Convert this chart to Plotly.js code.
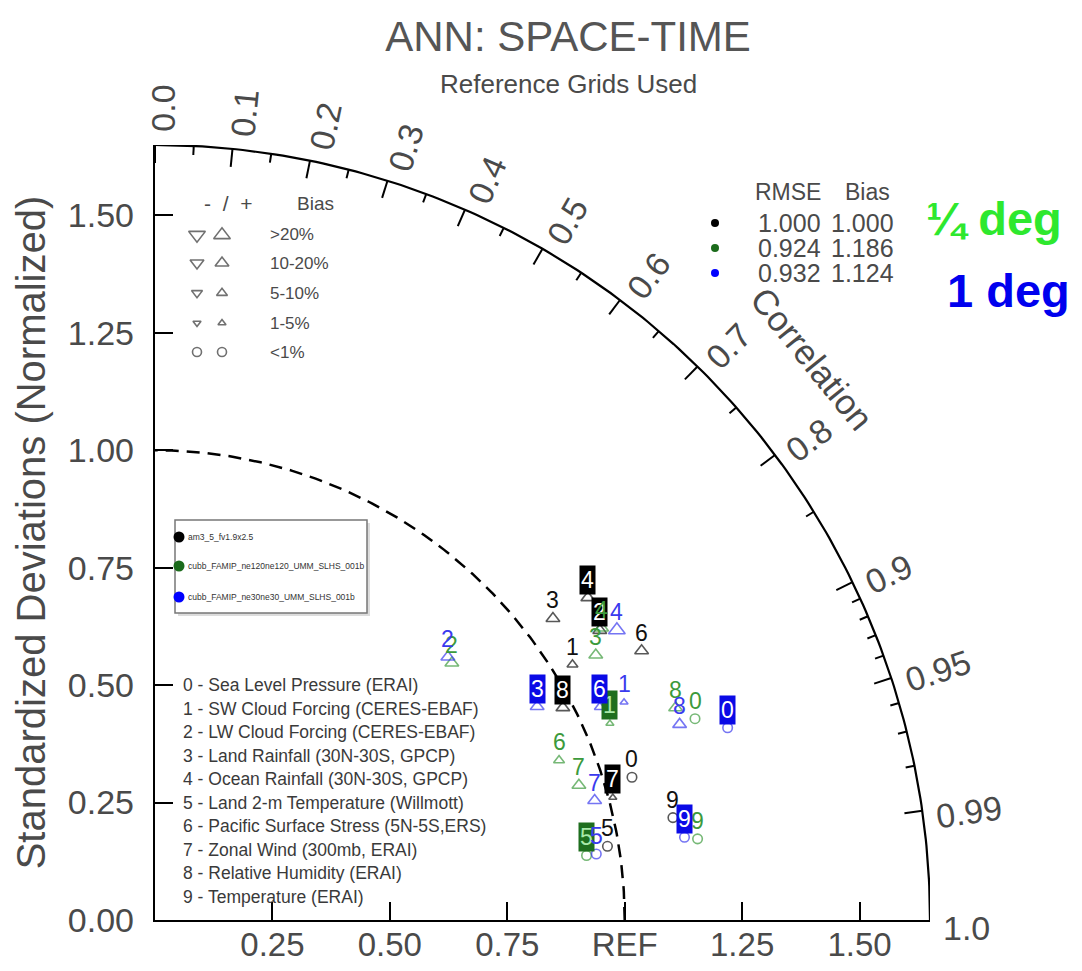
<!DOCTYPE html>
<html><head><meta charset="utf-8">
<script src="https://cdn.plot.ly/plotly-3.0.1.min.js"></script>
<style>html,body{margin:0;padding:0;background:#fff}#chart{width:1082px;height:971px}</style>
</head><body><div id="chart"></div>
<script>
// ---------------- data ----------------
const variableNames = ['Sea Level Pressure (ERAI)', 'SW Cloud Forcing (CERES-EBAF)', 'LW Cloud Forcing (CERES-EBAF)',
  'Land Rainfall (30N-30S, GPCP)', 'Ocean Rainfall (30N-30S, GPCP)', 'Land 2-m Temperature (Willmott)',
  'Pacific Surface Stress (5N-5S,ERS)', 'Zonal Wind (300mb, ERAI)', 'Relative Humidity (ERAI)', 'Temperature (ERAI)'];
const caseNames = ['am3_5_fv1.9x2.5', 'cubb_FAMIP_ne120ne120_UMM_SLHS_001b', 'cubb_FAMIP_ne30ne30_UMM_SLHS_001b'];
const rmseValues = ['1.000', '0.924', '0.932'];
const biasValues = ['1.000', '1.186', '1.124'];

// normalized standard deviation and correlation for each variable (0..9)
const stdCase1 = [1.060, 1.042, 1.130, 1.063, 1.149, 0.976, 1.184, 1.009, 0.979, 1.124];
const corCase1 = [0.958, 0.853, 0.838, 0.797, 0.802, 0.987, 0.875, 0.966, 0.887, 0.981];
const stdCase2 = [1.227, 1.055, 0.836, 1.095, 1.136, 0.929, 0.925, 0.947, 1.197, 1.168];
const corCase2 = [0.937, 0.918, 0.756, 0.857, 0.837, 0.989, 0.930, 0.953, 0.926, 0.989];
const stdCase3 = [1.286, 1.101, 0.838, 0.932, 1.161, 0.950, 1.050, 0.970, 1.192, 1.141];
const corCase3 = [0.948, 0.907, 0.744, 0.873, 0.847, 0.989, 0.902, 0.965, 0.937, 0.988];
// bias class: 0 <1%, 1 1-5%, 2 5-10%, 3 10-20%, 4 >20% (all positive)
const biasClassCase1 = [0, 2, 3, 3, 3, 0, 3, 1, 3, 0];
const biasClassCase2 = [0, 1, 3, 3, 3, 0, 2, 3, 3, 0];
const biasClassCase3 = [0, 1, 3, 3, 4, 0, 2, 3, 3, 0];
// labels drawn in a filled box
const boxedCase1 = [0, 0, 1, 0, 1, 0, 0, 1, 1, 0];
const boxedCase2 = [0, 1, 0, 0, 0, 1, 0, 0, 0, 0];
const boxedCase3 = [1, 0, 0, 1, 0, 0, 1, 0, 0, 1];

const stdTickVals = [0, 0.25, 0.5, 0.75, 1.0, 1.25, 1.5];
const stdTickTextY = ['0.00', '0.25', '0.50', '0.75', '1.00', '1.25', '1.50'];
const stdTickTextX = ['', '0.25', '0.50', '0.75', 'REF', '1.25', '1.50'];
const corMajor = [0, 0.1, 0.2, 0.3, 0.4, 0.5, 0.6, 0.7, 0.8, 0.9, 0.95, 0.99];
const corMinor = [0.05, 0.15, 0.25, 0.35, 0.45, 0.55, 0.65, 0.75, 0.85, 0.91, 0.92, 0.93, 0.94, 0.96, 0.97, 0.98];
const corLabelVals = [0, 0.1, 0.2, 0.3, 0.4, 0.5, 0.6, 0.7, 0.8, 0.9, 0.95, 0.99, 1.0];
const corLabelText = ['0.0', '0.1', '0.2', '0.3', '0.4', '0.5', '0.6', '0.7', '0.8', '0.9', '0.95', '0.99', '1.0'];
const biasLegendText = ['>20%', '10-20%', '5-10%', '1-5%', '<1%'];

// ---------------- layout constants ----------------
const RMAX = 1.65;
const L = 155, T = 145, W = 775, H = 775;           // plot area in px
const S = W / RMAX;                                  // px per unit
const FONT = 'Liberation Sans, Arial, sans-serif';
const TXT = '#4a4a4a';
const caseColors = ['#111111', '#3c9a3c', '#3a3aee'];
const boxColors = ['#000000', '#1e6e1e', '#0a0ae6'];
const boxText = ['#ffffff', '#a8e8a8', '#ffffff'];
const dotColors = ['#000000', '#1b6b1b', '#0000ff'];
const classSizes = [9.5, 7, 9.5, 12, 14.5];

function dX(px) { return (px - L) / S; }   // pixel -> data
function dY(py) { return (T + H - py) / S; }
function pX(px) { return (px - L) / W; }   // pixel -> paper
function pY(py) { return (T + H - py) / H; }

const traces = [];
const annotations = [];
function note(px, py, text, size, opts) {
  annotations.push(Object.assign({xref: 'paper', yref: 'paper', x: pX(px), y: pY(py), text: text, showarrow: false,
    xanchor: 'center', yanchor: 'middle', font: {family: FONT, size: size, color: TXT}}, opts || {}));
}

// outer arc and REF arc
function arc(r) {
  const xs = [], ys = [];
  for (let i = 0; i <= 180; i++) { const a = i / 180 * Math.PI / 2; xs.push(r * Math.cos(a)); ys.push(r * Math.sin(a)); }
  return [xs, ys];
}
let a1 = arc(RMAX);
traces.push({x: a1[0], y: a1[1], mode: 'lines', line: {color: '#000', width: 2.2}, hoverinfo: 'skip', cliponaxis: false});
let a2 = arc(1.0);
traces.push({x: a2[0], y: a2[1], mode: 'lines', line: {color: '#000', width: 2.5, dash: '13px,8px'}, hoverinfo: 'skip'});

// correlation ticks
function corTicks(vals, lenPx) {
  const xs = [], ys = [];
  vals.forEach(r => {
    const th = Math.acos(r);
    const r0 = RMAX, r1 = RMAX - lenPx / S;
    xs.push(r0 * Math.cos(th), r1 * Math.cos(th), null);
    ys.push(r0 * Math.sin(th), r1 * Math.sin(th), null);
  });
  return {x: xs, y: ys, mode: 'lines', line: {color: '#000', width: 2}, hoverinfo: 'skip', cliponaxis: false};
}
traces.push(corTicks(corMajor, 18));
traces.push(corTicks(corMinor, 9));

// correlation labels
corLabelVals.forEach((r, i) => {
  const th = Math.acos(r);
  const t = corLabelText[i];
  let w = 0; for (const c of t) w += (c === '.') ? 9.7 : 19.5;
  const R = W + 12 + w / 2;
  const cx = L + R * Math.cos(th) + 8 * Math.sin(th);
  const cy = T + H - R * Math.sin(th) + 8 * Math.cos(th);
  note(cx, cy, t, 34, {textangle: -th * 180 / Math.PI});
});
note(812, 358, 'Correlation', 35, {textangle: 51});

// data points
const cases = [
  {std: stdCase1, cor: corCase1, cls: biasClassCase1, box: boxedCase1},
  {std: stdCase2, cor: corCase2, cls: biasClassCase2, box: boxedCase2},
  {std: stdCase3, cor: corCase3, cls: biasClassCase3, box: boxedCase3}
];
cases.forEach((c, ci) => {
  const xs = c.std.map((s, k) => s * c.cor[k]);
  const ys = c.std.map((s, k) => s * Math.sqrt(1 - c.cor[k] * c.cor[k]));
  traces.push({x: xs, y: ys, mode: 'markers', name: caseNames[ci], hoverinfo: 'skip',
    marker: {symbol: c.cls.map(v => v === 0 ? 'circle-open' : 'triangle-up-open'),
             size: c.cls.map(v => classSizes[v]), color: caseColors[ci], line: {width: 1.6, color: caseColors[ci]}}});
  xs.forEach((x, k) => {
    const boxed = c.box[k] === 1;
    annotations.push({x: x, y: ys[k], xref: 'x', yref: 'y', text: String(k), showarrow: false, yshift: 18,
      xanchor: 'center', yanchor: 'middle',
      font: {family: FONT, size: 23, color: boxed ? boxText[ci] : caseColors[ci]},
      bgcolor: boxed ? boxColors[ci] : 'rgba(0,0,0,0)', borderpad: 1});
  });
});

// bias legend (top-left)
const legRowsY = [235, 263, 293, 323, 352];
traces.push({x: legRowsY.map(() => dX(197)), y: legRowsY.map(dY), mode: 'markers', hoverinfo: 'skip',
  marker: {symbol: ['triangle-down-open', 'triangle-down-open', 'triangle-down-open', 'triangle-down-open', 'circle-open'],
           size: [14.5, 12, 9.5, 7, 9], color: '#333', line: {width: 1.6, color: '#333'}}});
traces.push({x: legRowsY.map(() => dX(222)), y: legRowsY.map(dY), mode: 'markers', hoverinfo: 'skip',
  marker: {symbol: ['triangle-up-open', 'triangle-up-open', 'triangle-up-open', 'triangle-up-open', 'circle-open'],
           size: [14.5, 12, 9.5, 7, 9], color: '#333', line: {width: 1.6, color: '#333'}}});
note(228, 203, '-  /  +', 21);
note(315, 203, 'Bias', 19);
biasLegendText.forEach((t, i) => note(268, legRowsY[i], t, 17, {xanchor: 'left'}));

// case legend box
const shapes = [
  {type: 'rect', xref: 'paper', yref: 'paper', x0: pX(178), x1: pX(370), y0: pY(616), y1: pY(523), line: {width: 0}, fillcolor: '#dcdcdc', layer: 'below'},
  {type: 'rect', xref: 'paper', yref: 'paper', x0: pX(175), x1: pX(367), y0: pY(613), y1: pY(520), line: {color: '#777', width: 1.5}, fillcolor: '#fff', layer: 'below'}
];
const caseRowY = [537, 566, 597];
traces.push({x: caseRowY.map(() => dX(179)), y: caseRowY.map(dY), mode: 'markers', hoverinfo: 'skip',
  marker: {size: 11, color: dotColors}});
caseNames.forEach((n, i) => note(186, caseRowY[i], n, 8.5, {xanchor: 'left', font: {family: FONT, size: 8.5, color: '#333'}}));

// variable list
variableNames.forEach((v, i) => note(181, 685 + i * 23.5, i + ' - ' + v, 17.5,
  {xanchor: 'left', font: {family: FONT, size: 17.5, color: '#3a3a3a'}}));

// RMSE / Bias legend
const rmseRowY = [223, 248, 273];
traces.push({x: rmseRowY.map(() => dX(715)), y: rmseRowY.map(dY), mode: 'markers', hoverinfo: 'skip',
  marker: {size: 8, color: dotColors}});
note(788, 192, 'RMSE', 23);
note(867, 192, 'Bias', 23);
rmseRowY.forEach((y, i) => {
  note(789, y, rmseValues[i], 25);
  note(862, y, biasValues[i], 25);
});

// resolution tags
note(924, 218, '¼ deg', 47, {xanchor: 'left', font: {family: FONT, size: 47, color: '#2ee82e', weight: 'bold'}});
note(945, 290, '1 deg', 47, {xanchor: 'left', font: {family: FONT, size: 47, color: '#0000ee', weight: 'bold'}});

// subtitle
note(568, 84, 'Reference Grids Used', 26);

const axisCommon = {range: [0, RMAX], showgrid: false, zeroline: false, showline: true, linecolor: '#000', linewidth: 2.2,
  ticks: 'inside', ticklen: 18, tickwidth: 2, tickcolor: '#000', tickmode: 'array', tickvals: stdTickVals,
  tickfont: {family: FONT, size: 34, color: TXT}, fixedrange: true};

const layout = {
  width: 1082, height: 971,
  margin: {l: L, r: 1082 - L - W, t: T, b: 971 - T - H, autoexpand: false},
  paper_bgcolor: '#fff', plot_bgcolor: '#fff',
  showlegend: false,
  font: {family: FONT, color: TXT},
  title: {text: 'ANN: SPACE-TIME', xref: 'container', yref: 'container', x: 568 / 1082, y: 1 - 36 / 971,
    xanchor: 'center', yanchor: 'middle', font: {family: FONT, size: 42, color: '#555'}},
  xaxis: Object.assign({}, axisCommon, {ticktext: stdTickTextX, ticklabelstandoff: -6,
    tickfont: {family: FONT, size: 33, color: TXT}}),
  yaxis: Object.assign({}, axisCommon, {ticktext: stdTickTextY, ticklabelstandoff: 12,
    title: {text: 'Standardized Deviations (Normalized)', font: {family: FONT, size: 40, color: TXT}, standoff: 10}}),
  shapes: shapes,
  annotations: annotations
};

Plotly.newPlot('chart', traces, layout, {displayModeBar: false, staticPlot: true});
</script>
</body></html>
